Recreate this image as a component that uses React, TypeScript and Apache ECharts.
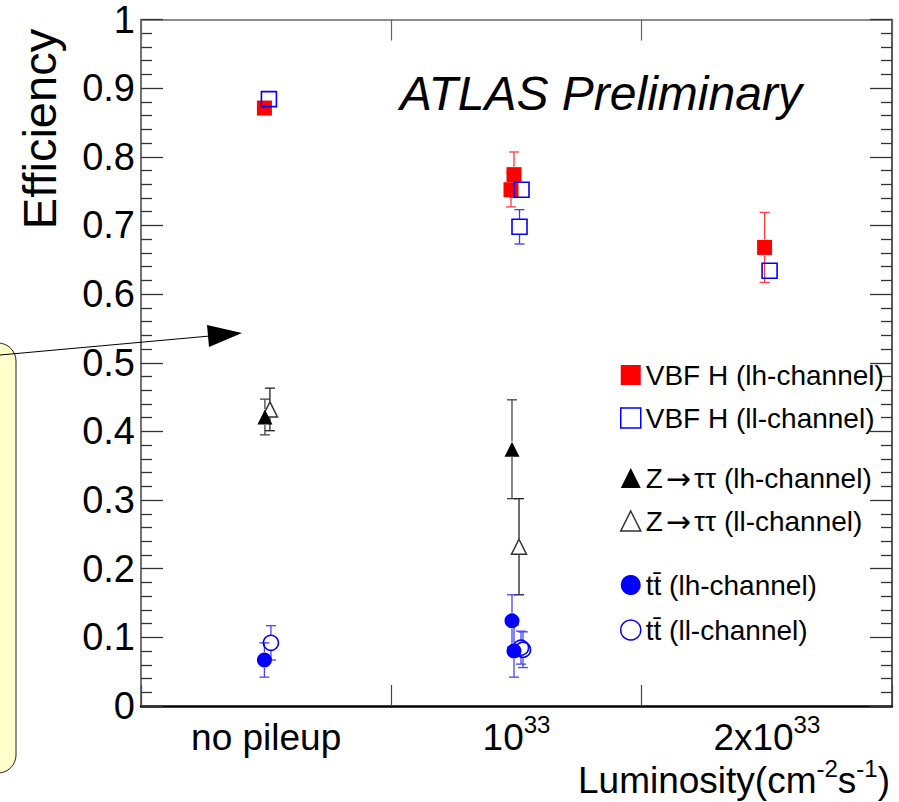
import React, { useEffect, useRef } from "react";
import * as echarts from "echarts";

// Luminosity conditions (category axis) and the numeric positions used by the markers
const categories = ["no pileup", "10^33", "2x10^33"];
const yTicks = [0, 0.1, 0.2, 0.3, 0.4, 0.5, 0.6, 0.7, 0.8, 0.9, 1];

// VBF H, lh-channel (filled red squares)
const vbfLhX = [-0.007, 0.99, 0.978, 1.991];
const vbfLhY = [0.871, 0.774, 0.752, 0.668];
const vbfLhErr = [0, 0.033, 0.025, 0.051];

// VBF H, ll-channel (open blue squares)
const vbfLlX = [0.011, 1.02, 1.012, 2.011];
const vbfLlY = [0.884, 0.752, 0.698, 0.634];
const vbfLlErr = [0, 0.01, 0.025, 0.01];

// Z -> tautau, lh-channel (filled triangles)
const zLhX = [-0.005, 0.982];
const zLhY = [0.421, 0.374];
const zLhErr = [0.026, 0.072];

// Z -> tautau, ll-channel (open triangles)
const zLlX = [0.015, 1.01];
const zLlY = [0.432, 0.232];
const zLlErr = [0.031, 0.07];

// ttbar, lh-channel (filled blue circles)
const ttLhX = [-0.007, 0.982, 0.99];
const ttLhY = [0.067, 0.124, 0.08];
const ttLhErr = [0.025, 0.038, 0.038];

// ttbar, ll-channel (open blue circles)
const ttLlX = [0.019, 1.018, 1.026];
const ttLlY = [0.092, 0.085, 0.082];
const ttLlErr = [0.025, 0.024, 0.026];

const FONT = '"Liberation Sans", Arial, Helvetica, sans-serif';
const RED = "#ff0000";
const BLUE = "#0000ff";

const NAMES = {
  vbfLh: "VBF H (lh-channel)",
  vbfLl: "VBF H (ll-channel)",
  zLh: "Z\u2192\u03c4\u03c4 (lh-channel)",
  zLl: "Z\u2192\u03c4\u03c4 (ll-channel)",
  ttLh: "tt\u0304 (lh-channel)",
  ttLl: "tt\u0304 (ll-channel)",
};

const pts = (xs: number[], ys: number[]) => xs.map((x, i) => [x, ys[i]]);
const errPts = (xs: number[], ys: number[], es: number[]) =>
  xs.map((x, i) => [x, ys[i], es[i], es[i]]);

// Vertical error bar with end caps, leaving a gap where the marker sits
function errorBars(name: string, data: number[][], color: string) {
  return {
    type: "custom",
    name: name + " err",
    xAxisIndex: 1,
    yAxisIndex: 0,
    z: 1,
    silent: true,
    encode: { x: 0, y: 1 },
    data,
    renderItem: (_params: any, api: any) => {
      const x = api.value(0);
      const y = api.value(1);
      const lo = api.value(2);
      const hi = api.value(3);
      const c = api.coord([x, y]);
      const t = api.coord([x, y + hi]);
      const b = api.coord([x, y - lo]);
      const half = 8;
      const cap = 5;
      const style = { stroke: color, lineWidth: 1.3 };
      const children: any[] = [];
      if (c[1] - t[1] > half) {
        children.push({ type: "line", shape: { x1: c[0], y1: t[1], x2: c[0], y2: c[1] - half }, style });
        children.push({ type: "line", shape: { x1: c[0] - cap, y1: t[1], x2: c[0] + cap, y2: t[1] }, style });
      }
      if (b[1] - c[1] > half) {
        children.push({ type: "line", shape: { x1: c[0], y1: c[1] + half, x2: c[0], y2: b[1] }, style });
        children.push({ type: "line", shape: { x1: c[0] - cap, y1: b[1], x2: c[0] + cap, y2: b[1] }, style });
      }
      return { type: "group", children };
    },
  };
}

function markers(name: string, data: number[][], symbol: string, fill: string, stroke: string, border: number) {
  return {
    type: "scatter",
    name,
    xAxisIndex: 1,
    yAxisIndex: 0,
    z: 3,
    symbol,
    symbolSize: 15,
    data,
    itemStyle: {
      color: fill,
      borderColor: stroke,
      borderWidth: border,
      opacity: 1,
    },
  };
}

function legendBlock(top: number, gap: number, items: any[]) {
  return {
    show: true,
    orient: "vertical",
    left: 620,
    top,
    padding: 0,
    itemGap: gap,
    itemWidth: 20,
    itemHeight: 20,
    selectedMode: false,
    formatter: (name: string) =>
      name.indexOf("\u2192") >= 0
        ? "{t|Z}{a|\u2192}{t|" + name.slice(name.indexOf("\u2192") + 1) + "}"
        : "{t|" + name + "}",
    textStyle: {
      fontFamily: FONT,
      fontSize: 28,
      color: "#000",
      lineHeight: 30,
      rich: {
        t: { fontFamily: FONT, fontSize: 28, color: "#000", lineHeight: 30 },
        a: {
          fontFamily: '"DejaVu Sans", sans-serif',
          fontSize: 30,
          color: "#000",
          lineHeight: 30,
          padding: [0, 3, 0, 3],
        },
      },
    },
    data: items,
  };
}

const catLabel = (v: string) => {
  const i = v.indexOf("^");
  if (i < 0) return "{b|" + v + "}";
  return "{b|" + v.slice(0, i) + "}{s|" + v.slice(i + 1) + "}";
};

export default function App() {
  const ref = useRef<HTMLDivElement>(null);

  useEffect(() => {
    if (!ref.current) return;
    const chart = echarts.init(ref.current, undefined, { renderer: "svg" });

    const yAxisBase = {
      type: "value",
      min: 0,
      max: 1,
      interval: 0.1,
      splitLine: { show: false },
      axisTick: { show: true, inside: true, length: 22, lineStyle: { color: "#333", width: 1.3 } },
      minorTick: { show: true, splitNumber: 5, length: 11, lineStyle: { color: "#333", width: 1.3 } },
      minorSplitLine: { show: false },
    };

    const option: any = {
      animation: false,
      backgroundColor: "#ffffff",
      grid: { left: 141, right: 7, top: 19.5, bottom: 96, containLabel: false },
      xAxis: [
        {
          type: "category",
          position: "bottom",
          data: categories,
          boundaryGap: true,
          axisLine: { show: true, onZero: false, lineStyle: { color: "#000", width: 2.5 } },
          axisTick: { show: true, inside: true, length: 21, interval: 0, lineStyle: { color: "#444", width: 1.2 } },
          axisLabel: {
            interval: 0,
            margin: 6,
            formatter: catLabel,
            rich: {
              b: { fontFamily: FONT, fontSize: 37, color: "#000", lineHeight: 50 },
              s: { fontFamily: FONT, fontSize: 24, color: "#000", lineHeight: 24, verticalAlign: "top" },
            },
          },
          splitLine: { show: false },
        },
        { type: "value", min: -0.5, max: 2.5, show: false, axisLine: { onZero: false } },
        {
          type: "category",
          position: "top",
          data: categories,
          boundaryGap: true,
          axisLine: { show: true, onZero: false, lineStyle: { color: "#666", width: 1.5 } },
          axisTick: { show: true, inside: true, length: 21, interval: 0, lineStyle: { color: "#666", width: 1.2 } },
          axisLabel: { show: false },
          splitLine: { show: false },
        },
      ],
      yAxis: [
        {
          ...yAxisBase,
          position: "left",
          axisLine: { show: true, onZero: false, lineStyle: { color: "#444", width: 1.5 } },
          axisLabel: {
            show: true,
            margin: 6,
            fontFamily: FONT,
            fontSize: 38,
            color: "#000",
            formatter: (v: number) => {
              const t = yTicks.find((k) => Math.abs(k - v) < 1e-6);
              if (t === undefined) return "";
              return t === 0 || t === 1 ? String(t) : t.toFixed(1);
            },
          },
        },
        {
          ...yAxisBase,
          position: "right",
          axisLine: { show: true, onZero: false, lineStyle: { color: "#222", width: 1.5 } },
          axisLabel: { show: false },
        },
      ],
      legend: [
        legendBlock(360, 13, [
          { name: NAMES.vbfLh, icon: "rect", itemStyle: { color: RED, borderWidth: 0 } },
          { name: NAMES.vbfLl, icon: "rect", itemStyle: { color: "transparent", borderColor: BLUE, borderWidth: 1.5 } },
        ]),
        legendBlock(463, 13, [
          { name: NAMES.zLh, icon: "triangle", itemStyle: { color: "#000", borderWidth: 0 } },
          { name: NAMES.zLl, icon: "triangle", itemStyle: { color: "transparent", borderColor: "#333", borderWidth: 1.5 } },
        ]),
        legendBlock(570, 15, [
          { name: NAMES.ttLh, icon: "circle", itemStyle: { color: BLUE, borderWidth: 0 } },
          { name: NAMES.ttLl, icon: "circle", itemStyle: { color: "transparent", borderColor: BLUE, borderWidth: 1.5 } },
        ]),
      ],
      series: [
        errorBars(NAMES.vbfLh, errPts(vbfLhX, vbfLhY, vbfLhErr), "#ff3b3b"),
        errorBars(NAMES.vbfLl, errPts(vbfLlX, vbfLlY, vbfLlErr), "#3b3bff"),
        errorBars(NAMES.zLh, errPts(zLhX, zLhY, zLhErr), "#444"),
        errorBars(NAMES.zLl, errPts(zLlX, zLlY, zLlErr), "#222"),
        errorBars(NAMES.ttLh, errPts(ttLhX, ttLhY, ttLhErr), "#4444ff"),
        errorBars(NAMES.ttLl, errPts(ttLlX, ttLlY, ttLlErr), "#4444ff"),
        markers(NAMES.vbfLh, pts(vbfLhX, vbfLhY), "rect", RED, RED, 0),
        markers(NAMES.vbfLl, pts(vbfLlX, vbfLlY), "rect", "transparent", BLUE, 1.6),
        markers(NAMES.zLl, pts(zLlX, zLlY), "triangle", "transparent", "#333", 1.5),
        markers(NAMES.zLh, pts(zLhX, zLhY), "triangle", "#000", "#000", 0),
        markers(NAMES.ttLh, pts(ttLhX, ttLhY), "circle", BLUE, BLUE, 0),
        markers(NAMES.ttLl, pts(ttLlX, ttLlY), "circle", "transparent", BLUE, 1.6),
      ],
      graphic: [
        // note box on the left edge with its pointer arrow
        {
          type: "rect",
          shape: { x: -30, y: 343, width: 46, height: 430, r: 18 },
          style: { fill: "#ffffcc", stroke: "#222", lineWidth: 1 },
          z: 10,
        },
        {
          type: "line",
          shape: { x1: 0, y1: 355, x2: 210, y2: 336 },
          style: { stroke: "#000", lineWidth: 1.2 },
          z: 10,
        },
        {
          type: "polygon",
          shape: { points: [[242, 333], [209, 347], [207, 325]] },
          style: { fill: "#000" },
          z: 10,
        },
        {
          type: "text",
          x: 400,
          y: 93,
          z: 10,
          style: {
            text: "ATLAS Preliminary",
            fontFamily: FONT,
            fontSize: 48,
            fontStyle: "italic",
            fill: "#000",
            verticalAlign: "middle",
          },
        },
        {
          type: "text",
          x: 39,
          y: 129,
          rotation: Math.PI / 2,
          z: 10,
          style: {
            text: "Efficiency",
            fontFamily: FONT,
            fontSize: 47,
            fill: "#000",
            align: "center",
            verticalAlign: "middle",
          },
        },
        {
          type: "text",
          x: 890,
          y: 780,
          z: 10,
          style: {
            text: "{n|Luminosity(cm}{s|-2}{n|s}{s|-1}{n|)}",
            align: "right",
            verticalAlign: "middle",
            rich: {
              n: { fontFamily: FONT, fontSize: 37, fill: "#000", lineHeight: 48 },
              s: { fontFamily: FONT, fontSize: 24, fill: "#000", lineHeight: 24, verticalAlign: "top" },
            },
          },
        },
      ],
    };

    chart.setOption(option);
    return () => chart.dispose();
  }, []);

  return (
    <div
      ref={ref}
      style={{ position: "fixed", left: 0, top: 0, width: 899, height: 802, background: "#fff" }}
    />
  );
}
